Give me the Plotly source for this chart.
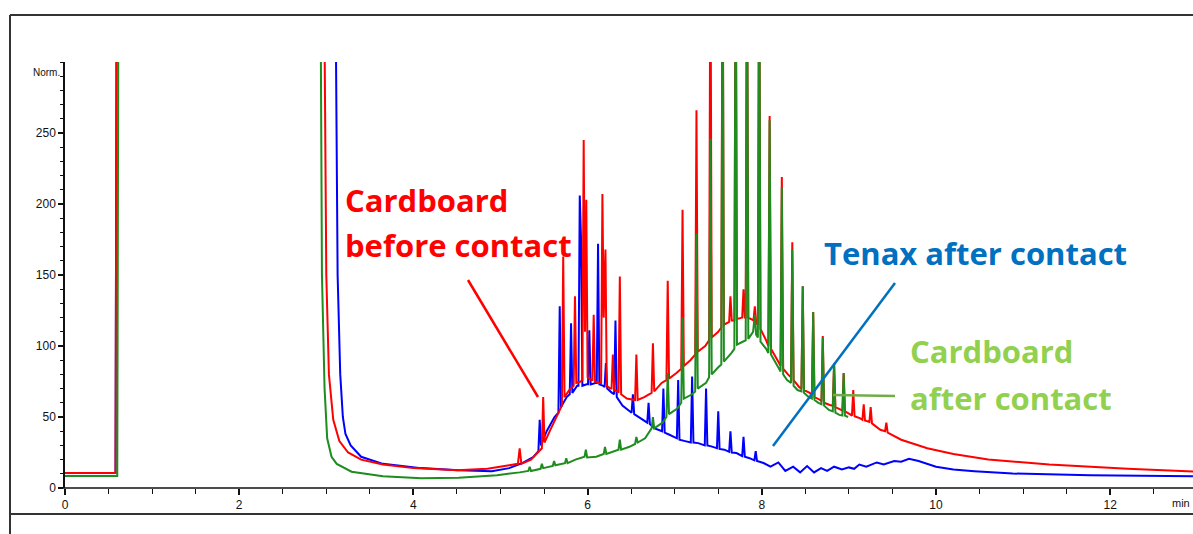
import plotly.graph_objects as go

# ---------------- data (minutes, Norm.) ----------------
red_points = [
    (0.00, 10.5), (0.58, 10.5), (0.595, 400), (2.97, 400), (3.00, 150), (3.03, 80), (3.08, 48), (3.15, 33),
    (3.25, 25), (3.40, 20), (3.65, 16.5), (4.00, 14), (4.50, 12.5), (4.85, 13.5), (5.10, 16),
    (5.20, 17), (5.22, 28), (5.24, 17), (5.35, 20), (5.44, 26),
    (5.475, 28), (5.49, 64), (5.505, 32), (5.58, 42), (5.66, 52),
    (5.705, 58), (5.72, 163), (5.735, 64), (5.80, 70),
    (5.84, 72), (5.855, 135), (5.87, 74), (5.92, 75),
    (5.94, 76), (5.955, 245), (5.97, 110), (5.985, 203), (6.00, 78), (6.04, 76),
    (6.055, 76), (6.07, 122), (6.085, 75), (6.14, 74),
    (6.155, 74), (6.17, 207), (6.185, 120), (6.205, 168), (6.22, 72), (6.26, 70),
    (6.275, 70), (6.29, 94), (6.305, 69), (6.34, 68),
    (6.355, 67), (6.37, 149), (6.385, 66), (6.45, 63),
    (6.545, 62), (6.56, 94), (6.575, 62), (6.65, 64),
    (6.735, 67), (6.75, 102), (6.765, 68), (6.85, 74),
    (6.905, 76), (6.92, 146), (6.935, 77), (7.02, 81),
    (7.075, 84), (7.09, 196), (7.105, 86), (7.18, 90),
    (7.235, 94), (7.25, 266), (7.265, 96), (7.35, 100),
    (7.395, 104), (7.41, 400), (7.425, 106), (7.50, 110),
    (7.535, 113), (7.55, 400), (7.565, 115),
    (7.625, 117), (7.64, 135), (7.655, 118),
    (7.685, 118), (7.70, 400), (7.715, 119),
    (7.775, 120), (7.79, 140), (7.805, 120),
    (7.815, 120), (7.83, 400), (7.845, 120),
    (7.905, 118), (7.92, 128), (7.935, 116),
    (7.955, 115), (7.97, 400), (7.985, 112), (8.05, 104),
    (8.075, 100), (8.09, 262), (8.105, 98), (8.18, 90),
    (8.215, 86), (8.23, 219), (8.245, 84), (8.30, 80),
    (8.335, 78), (8.35, 173), (8.365, 76), (8.43, 71),
    (8.455, 70), (8.47, 142), (8.485, 69), (8.55, 67),
    (8.575, 65), (8.59, 124), (8.605, 64), (8.67, 62),
    (8.685, 61), (8.70, 107), (8.715, 60), (8.78, 58.5),
    (8.815, 58), (8.83, 88), (8.845, 57), (8.91, 55),
    (8.925, 54.5), (8.94, 81), (8.955, 54), (9.01, 52),
    (9.035, 51), (9.05, 69), (9.065, 50.5), (9.13, 49),
    (9.155, 48), (9.17, 59), (9.185, 47.5),
    (9.235, 46.5), (9.25, 57), (9.265, 45.5), (9.36, 41),
    (9.415, 40), (9.43, 46), (9.445, 39),
    (9.60, 34), (9.90, 28), (10.2, 24), (10.6, 20), (11.3, 16.5), (12.2, 13.5), (13.0, 11.5),
]

green_points = [
    (0.00, 8.5), (0.60, 8.5), (0.615, 400), (2.93, 400), (2.95, 150), (2.98, 70), (3.01, 35), (3.06, 22),
    (3.12, 17), (3.29, 11.5), (3.65, 8.2), (4.09, 6.8), (4.52, 7.2), (4.96, 9.0), (5.22, 11),
    (5.32, 12), (5.335, 15), (5.35, 12),
    (5.46, 13.5), (5.475, 17), (5.49, 14),
    (5.60, 15.5), (5.615, 19), (5.63, 16),
    (5.74, 17.5), (5.755, 21), (5.77, 17.5),
    (5.86, 20), (5.965, 22), (5.98, 27), (5.995, 21.5),
    (6.10, 22), (6.185, 24), (6.20, 29), (6.215, 24),
    (6.30, 26), (6.355, 27), (6.37, 34), (6.385, 27),
    (6.48, 29), (6.545, 31), (6.56, 36), (6.575, 32),
    (6.66, 35), (6.735, 42), (6.75, 50), (6.765, 42),
    (6.86, 46), (6.905, 50), (6.92, 81), (6.935, 52),
    (7.03, 56), (7.075, 60), (7.09, 120), (7.105, 63),
    (7.20, 66), (7.235, 68), (7.25, 179), (7.265, 70),
    (7.36, 74), (7.395, 78), (7.41, 246), (7.425, 80),
    (7.50, 85), (7.535, 87), (7.55, 400), (7.565, 89),
    (7.65, 95), (7.685, 98), (7.70, 400), (7.715, 101),
    (7.78, 103), (7.815, 104), (7.83, 400), (7.845, 105),
    (7.90, 110), (7.92, 122), (7.935, 108),
    (7.955, 106), (7.97, 400), (7.985, 103),
    (8.05, 98), (8.075, 95), (8.09, 259), (8.105, 94),
    (8.18, 86), (8.215, 82), (8.23, 212), (8.245, 80),
    (8.29, 76), (8.335, 74), (8.35, 168), (8.365, 72),
    (8.41, 69), (8.455, 68), (8.47, 142), (8.485, 67),
    (8.53, 64.5), (8.575, 63), (8.59, 124), (8.605, 62),
    (8.65, 60), (8.685, 59), (8.70, 106), (8.715, 58),
    (8.77, 55), (8.815, 54), (8.83, 88), (8.845, 53),
    (8.89, 51.5), (8.925, 51), (8.94, 81), (8.955, 51), (8.99, 50),
]

blue_points = [
    (0.00, 10.5), (0.58, 10.5), (0.595, 400), (3.10, 400), (3.13, 150), (3.16, 80), (3.19, 50), (3.22, 38),
    (3.28, 30), (3.40, 22), (3.65, 17), (4.09, 14), (4.52, 12.5), (4.90, 11.8), (5.10, 14), (5.25, 17.6),
    (5.38, 22), (5.435, 26), (5.45, 48), (5.465, 30), (5.53, 40), (5.62, 50),
    (5.665, 53), (5.68, 128), (5.695, 57), (5.76, 64),
    (5.795, 66), (5.81, 116), (5.825, 67), (5.88, 72),
    (5.895, 72), (5.91, 206), (5.925, 175), (5.94, 72), (5.99, 73),
    (6.005, 73), (6.02, 111), (6.035, 73), (6.09, 74),
    (6.105, 74), (6.12, 172), (6.135, 73), (6.18, 72),
    (6.195, 71), (6.21, 88), (6.225, 70), (6.28, 67),
    (6.305, 66), (6.32, 118), (6.335, 64), (6.40, 58), (6.46, 55),
    (6.505, 53), (6.52, 66), (6.535, 52), (6.61, 49),
    (6.685, 46), (6.70, 60), (6.715, 45), (6.77, 42),
    (6.855, 40), (6.87, 70), (6.885, 39), (6.94, 37.5),
    (7.025, 35), (7.04, 76), (7.055, 34), (7.12, 33),
    (7.185, 32), (7.20, 78.5), (7.215, 32), (7.27, 31.6),
    (7.345, 30), (7.36, 70), (7.375, 30), (7.42, 29.3),
    (7.485, 28), (7.50, 54), (7.515, 27.5), (7.57, 27),
    (7.625, 25.5), (7.64, 40), (7.655, 25), (7.71, 24.6),
    (7.775, 22.5), (7.79, 36), (7.805, 22), (7.86, 21),
    (7.915, 19.5), (7.93, 26), (7.945, 19),
    (8.02, 17.6), (8.10, 15), (8.19, 18), (8.27, 12), (8.36, 15), (8.44, 11), (8.52, 15.5), (8.60, 11),
    (8.68, 14), (8.75, 12), (8.83, 15), (8.92, 13), (9.00, 14.5), (9.06, 13.5), (9.12, 16.5), (9.20, 15),
    (9.32, 18), (9.40, 16.5), (9.52, 19), (9.60, 18.5), (9.69, 20.6), (9.80, 19), (10.0, 15), (10.2, 13),
    (10.44, 11.8), (10.88, 10.2), (11.77, 9), (12.95, 8.3),
]

red_t = [p[0] for p in red_points]
red_v = [p[1] for p in red_points]
green_t = [p[0] for p in green_points]
green_v = [p[1] for p in green_points]
blue_t = [p[0] for p in blue_points]
blue_v = [p[1] for p in blue_points]

x_tick_vals = [0, 2, 4, 6, 8, 10, 12]
x_tick_text = ["0", "2", "4", "6", "8", "10", "12"]
y_tick_vals = [0, 50, 100, 150, 200, 250]
y_tick_text = ["0", "50", "100", "150", "200", "250"]

# ---------------- geometry (pixels) ----------------
W, H = 1193, 534
ML, MT, MB = 65, 62, 46
plot_h = H - MT - MB
plot_w = W - ML


def px(xp):
    return (xp - ML) / plot_w


def py(yp):
    return (H - MB - yp) / plot_h


fig = go.Figure()
fig.add_trace(go.Scatter(x=blue_t, y=blue_v, mode="lines", line=dict(color="#0000FF", width=2), name="Tenax after contact"))
fig.add_trace(go.Scatter(x=red_t, y=red_v, mode="lines", line=dict(color="#FF0000", width=2), name="Cardboard before contact"))
fig.add_trace(go.Scatter(x=green_t, y=green_v, mode="lines", line=dict(color="#1E8C1E", width=2), name="Cardboard after contact"))

font_lbl = "Open Sans"
ann = []


def txt(s, xp, yp, color, size=31):
    ann.append(dict(text=s, xref="paper", yref="paper", x=px(xp), y=py(yp), xanchor="left", yanchor="middle",
                    showarrow=False, font=dict(family=font_lbl, size=size, color=color, weight="bold")))


txt("Cardboard", 343, 200, "#FF0000")
txt("before contact", 343, 245, "#FF0000")
txt("Tenax after contact", 822, 253, "#0070C0")
txt("Cardboard", 908, 351, "#92D050")
txt("after contact", 908, 398, "#92D050")

ann.append(dict(text="Norm.", xref="paper", yref="paper", x=px(62), y=py(72), xanchor="right", yanchor="middle",
                showarrow=False, font=dict(family="Liberation Sans", size=10, color="#111")))
ann.append(dict(text="min", xref="paper", yref="paper", x=px(1192), y=py(503), xanchor="right", yanchor="middle",
                showarrow=False, font=dict(family="Liberation Sans", size=11, color="#111")))

shapes = []


def seg(x0, y0, x1, y1, color, width):
    shapes.append(dict(type="line", xref="paper", yref="paper", x0=px(x0), y0=py(y0), x1=px(x1), y1=py(y1),
                       line=dict(color=color, width=width)))


# pointer lines
seg(468, 280, 538, 397, "#FF0000", 2.5)
seg(773, 446, 895, 283, "#0070C0", 2.5)
seg(833, 395, 895, 396, "#70AD47", 2.5)
# frame
seg(10, 15, W + 5, 15, "#333333", 2)
seg(10, 15, 10, H + 5, "#333333", 2)
seg(10, 514, W + 5, 514, "#333333", 2)
seg(58, H - MB, W + 5, H - MB, "#111111", 1.5)

fig.update_layout(
    width=W, height=H,
    margin=dict(l=ML, r=0, t=MT, b=MB),
    paper_bgcolor="white", plot_bgcolor="white",
    showlegend=False,
    annotations=ann, shapes=shapes,
    xaxis=dict(range=[0, plot_w / 87.1], tickvals=x_tick_vals, ticktext=x_tick_text,
               showline=False, showgrid=False, zeroline=False, ticks="outside", ticklen=6, tickwidth=1.5,
               tickcolor="#111", minor=dict(dtick=0.5, ticks="outside", ticklen=5, tickwidth=1.2, tickcolor="#111"),
               tickfont=dict(family="Liberation Sans", size=12, color="#111")),
    yaxis=dict(range=[0, 300], tickvals=y_tick_vals, ticktext=y_tick_text,
               showline=True, linecolor="#111", linewidth=1.5, showgrid=False, zeroline=False,
               ticks="outside", ticklen=5, tickwidth=1.5, tickcolor="#111",
               minor=dict(dtick=10, ticks="outside", ticklen=3, tickwidth=1.2, tickcolor="#111"),
               tickfont=dict(family="Liberation Sans", size=12, color="#111")),
)

fig.write_html("out.html")
